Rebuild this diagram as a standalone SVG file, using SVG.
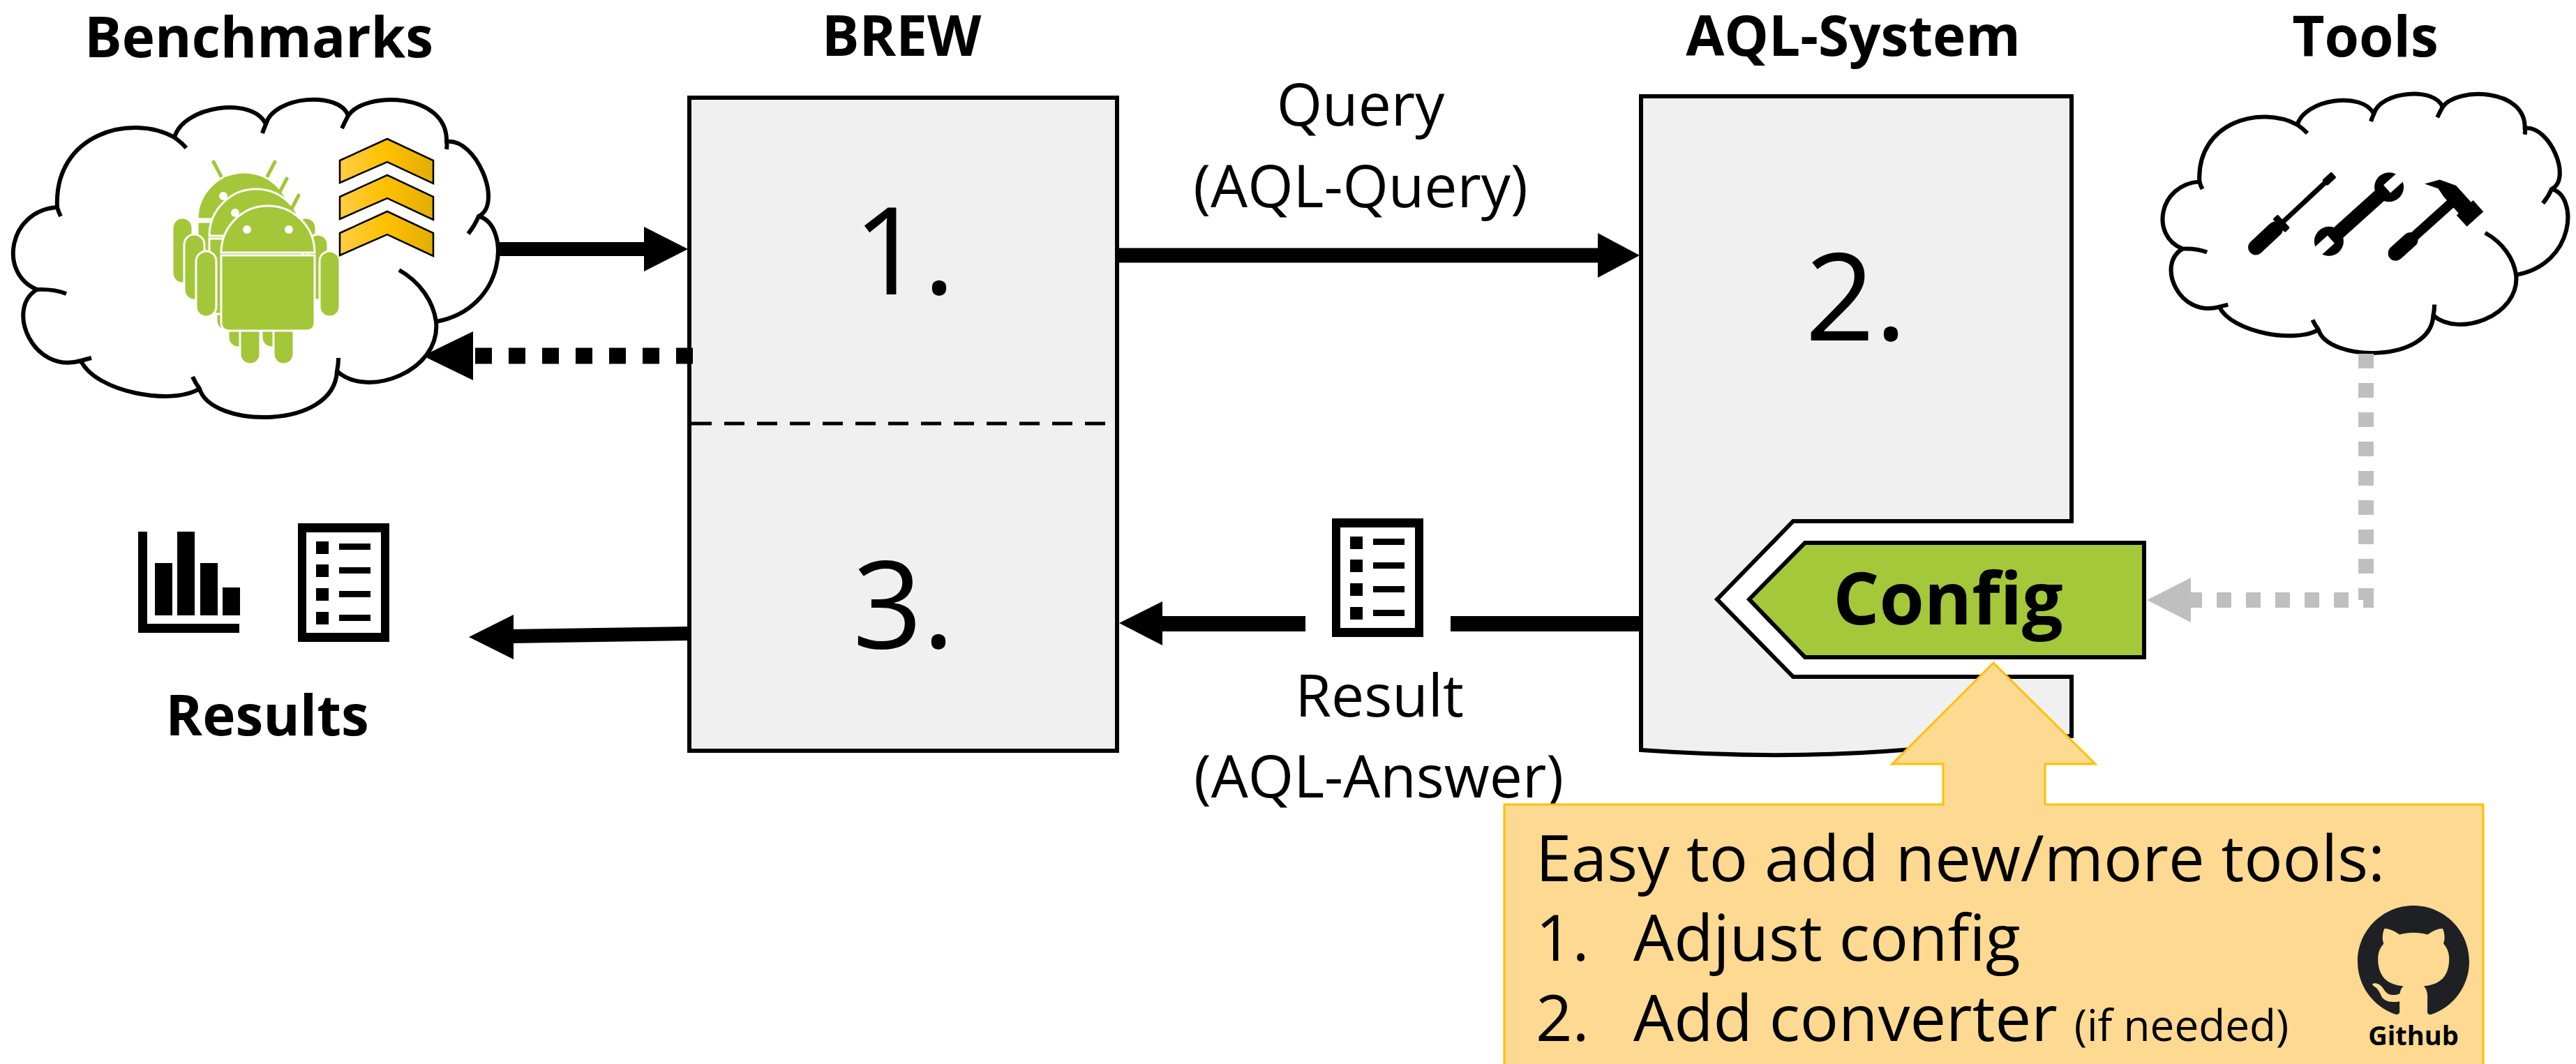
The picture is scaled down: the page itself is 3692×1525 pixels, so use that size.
<svg xmlns="http://www.w3.org/2000/svg" xmlns:xlink="http://www.w3.org/1999/xlink" width="3692" height="1525" viewBox="0 0 3692 1525">
  <style>
    .title { font-family: "Open Sans", "Noto Sans", sans-serif; font-weight: 700; font-size: 80px; text-anchor: middle; fill: #000; }
    .num { font-family: "Open Sans", "Noto Sans", sans-serif; font-size: 175px; text-anchor: middle; fill: #000; }
    .lbl { font-family: "Open Sans", "Noto Sans", sans-serif; font-size: 84px; text-anchor: middle; fill: #000; }
    .note { font-family: "Open Sans", "Noto Sans", sans-serif; font-size: 92px; fill: #000; }
    .box { fill: #f0f0f0; stroke: #000; stroke-width: 6; }
    .cloud { fill: #fff; stroke: #000; stroke-linejoin: round; stroke-linecap: round; }
    .cloud-mark { fill: none; stroke: #000; stroke-linecap: butt; }
    .droid { fill: #a4c639; stroke: #fff; stroke-width: 3; }
    .chev { fill: url(#chevFill); stroke: #000; stroke-width: 2.5; }
    .shaft { stroke: #000; fill: none; }
  </style>
  <defs>
    <linearGradient id="chevFill" x1="0" y1="0" x2="1" y2="0">
      <stop offset="0" stop-color="#ffcd45"/>
      <stop offset="0.5" stop-color="#ffc000"/>
      <stop offset="1" stop-color="#e2ae00"/>
    </linearGradient>
    <!-- cloud outline in a 700 x 457 box, plus the short inner arc ends -->
    <g id="cloudShape">
      <path class="cloud" d="M36,273 C-20,250 -5,160 65,155 C60,50 170,20 233,55 C245,10 345,-5 364,36 C375,-5 470,-12 482,24 C505,-12 625,-10 623,61 C665,55 705,150 669,168 C715,180 710,300 608,319 C615,390 510,430 466,390 C462,475 285,472 269,415 C230,440 120,420 99,375 C30,395 -10,300 36,273 Z"/>
      <path class="cloud-mark" d="M36,273 Q60,272 78,279 M65,155 Q67,162 70,168 M233,55 Q243,62 250,70 M364,36 Q361,43 359,49 M482,24 Q477,33 473,42 M623,61 Q624,66 623,72 M669,168 Q663,182 654,193 M555,245 C585,262 604,290 608,319 M468,371 Q468,381 466,390 M259,398 Q263,407 269,415 M114,371 Q106,373 99,375"/>
    </g>
    <!-- android robot, origin at the centre of the head base -->
    <g id="droid" class="droid">
      <line x1="-32" y1="-59" x2="-44" y2="-82" stroke="#a4c639" stroke-width="5" stroke-linecap="round"/>
      <line x1="32" y1="-59" x2="44" y2="-82" stroke="#a4c639" stroke-width="5" stroke-linecap="round"/>
      <rect x="-103" y="-2" width="29" height="94" rx="14.5"/>
      <rect x="74" y="-2" width="29" height="94" rx="14.5"/>
      <rect x="-40" y="95" width="29" height="65" rx="14.5"/>
      <rect x="8" y="95" width="29" height="65" rx="14.5"/>
      <path d="M-67,4 H67 V100 Q67,112 55,112 H-55 Q-67,112 -67,100 Z"/>
      <path d="M-67,0 A67,67 0 0 1 67,0 Z"/>
      <circle cx="-30" cy="-33" r="6" fill="#fff" stroke="none"/>
      <circle cx="30" cy="-33" r="6" fill="#fff" stroke="none"/>
    </g>
    <!-- list document icon -->
    <g id="docIcon">
      <rect x="0" y="0" width="131" height="170" fill="#000"/>
      <rect x="12" y="13" width="107" height="144" fill="#fff"/>
      <g fill="#000">
        <rect x="26" y="26" width="18" height="18"/>
        <rect x="26" y="59" width="18" height="18"/>
        <rect x="26" y="93" width="18" height="18"/>
        <rect x="26" y="127" width="18" height="18"/>
        <rect x="59" y="29" width="45" height="9"/>
        <rect x="59" y="63" width="45" height="9"/>
        <rect x="59" y="97" width="45" height="9"/>
        <rect x="59" y="131" width="45" height="9"/>
      </g>
    </g>
  </defs>

  <rect width="3692" height="1525" fill="#fff"/>

  <!-- Benchmarks -->
  <g id="benchmarks">
    <text class="title" x="371" y="82">Benchmarks</text>
    <use xlink:href="#cloudShape" transform="translate(17,142)" stroke-width="6"/>
    <use xlink:href="#droid" transform="translate(350,314)"/>
    <use xlink:href="#droid" transform="translate(367,338)"/>
    <use xlink:href="#droid" transform="translate(384,362)"/>
    <polygon class="chev" points="487,230 555,199 621,230 621,263 555,232 487,262"/>
    <polygon class="chev" points="487,282 555,251 621,282 621,315 555,284 487,314"/>
    <polygon class="chev" points="487,334 555,303 621,334 621,367 555,336 487,366"/>
  </g>

  <!-- BREW -->
  <g id="brew">
    <text class="title" x="1292" y="80">BREW</text>
    <rect class="box" x="988" y="140" width="613" height="936"/>
    <line x1="991" y1="607" x2="1598" y2="607" stroke="#000" stroke-width="5" stroke-dasharray="29 18"/>
    <text class="num" x="1296" y="422">1.</text>
    <text class="num" x="1295" y="929">3.</text>
  </g>

  <!-- AQL-System -->
  <g id="aql-system">
    <text class="title" x="2656" y="80">AQL-System</text>
    <path class="box" d="M2352,138 H2969 V747 H2570 L2461,859 L2570,970 H2969 V1055 C2900,1060 2800,1070 2700,1077 C2600,1084 2480,1084 2352,1075 Z"/>
    <text class="num" x="2660" y="488">2.</text>
  </g>

  <!-- Config -->
  <g id="config">
    <polygon points="2507,859 2587,778 3073,778 3073,942 2587,942" fill="#a5c73a" stroke="#000" stroke-width="6"/>
    <text x="2792" y="895" font-family="'Open Sans', 'Noto Sans', sans-serif" font-weight="700" font-size="104" text-anchor="middle">Config</text>
  </g>

  <!-- Tools -->
  <g id="tools">
    <text class="title" x="3390" y="81">Tools</text>
    <use xlink:href="#cloudShape" transform="translate(3098,134) scale(0.8357,0.8154)" stroke-width="7.3"/>
    <!-- screwdriver -->
    <g transform="translate(3285,306) rotate(-43)" fill="#000">
      <rect x="-82" y="-11" width="60" height="22" rx="11"/>
      <rect x="-26" y="-13" width="10" height="26" rx="2"/>
      <rect x="-18" y="-3.5" width="86" height="7"/>
      <rect x="64" y="-5.5" width="18" height="11" rx="2"/>
    </g>
    <!-- wrench -->
    <g transform="translate(3381,307) rotate(-42)">
      <rect x="-58" y="-10" width="116" height="20" rx="4" fill="#000"/>
      <circle cx="-58" cy="0" r="21" fill="#000"/>
      <circle cx="58" cy="0" r="21" fill="#000"/>
      <rect x="-84" y="-7.5" width="30" height="15" fill="#fff"/>
      <rect x="54" y="-7.5" width="30" height="15" fill="#fff"/>
    </g>
    <!-- hammer -->
    <g transform="translate(3430,366) rotate(-42)" fill="#000">
      <rect x="-6" y="-7" width="126" height="14" rx="5"/>
      <rect x="-6" y="-11" width="50" height="22" rx="11"/>
      <polygon points="134,-14 134,18 138,18 138,40 106,40 106,18 110,18 110,-14 112,-28 102,-46 122,-36"/>
    </g>
  </g>

  <!-- Results -->
  <g id="results">
    <g fill="#000">
      <rect x="198" y="762" width="13" height="145"/>
      <rect x="198" y="894" width="145" height="13"/>
      <rect x="222" y="807" width="25" height="75"/>
      <rect x="254" y="762" width="25" height="120"/>
      <rect x="287" y="807" width="25" height="75"/>
      <rect x="319" y="842" width="25" height="40"/>
    </g>
    <use xlink:href="#docIcon" transform="translate(427,750)"/>
    <text class="title" x="383" y="1054">Results</text>
  </g>

  <!-- Connectors -->
  <g id="connectors">
    <!-- benchmarks to BREW -->
    <line x1="715" y1="357" x2="926" y2="357" stroke="#000" stroke-width="20"/>
    <polygon points="986,357 923,325 923,389" fill="#000"/>
    <!-- BREW back to benchmarks (dotted) -->
    <line x1="993" y1="510" x2="680" y2="510" stroke="#000" stroke-width="23" stroke-dasharray="24 24"/>
    <polygon points="606,510 678,475 678,545" fill="#000"/>
    <!-- BREW to results -->
    <line x1="988" y1="908" x2="730" y2="912" stroke="#000" stroke-width="20"/>
    <polygon points="672,913 736,881 736,945" fill="#000"/>
    <!-- query -->
    <line x1="1601" y1="366" x2="2294" y2="366" stroke="#000" stroke-width="21"/>
    <polygon points="2350,366 2290,334 2290,398" fill="#000"/>
    <text class="lbl" x="1950" y="180">Query</text>
    <text class="lbl" x="1950" y="297">(AQL-Query)</text>
    <!-- result -->
    <line x1="2352" y1="894" x2="2079" y2="894" stroke="#000" stroke-width="22"/>
    <line x1="1871" y1="894" x2="1660" y2="894" stroke="#000" stroke-width="22"/>
    <polygon points="1604,893 1666,862 1666,925" fill="#000"/>
    <use xlink:href="#docIcon" transform="translate(1909,743)"/>
    <text class="lbl" x="1977" y="1027">Result</text>
    <text class="lbl" x="1976" y="1143">(AQL-Answer)</text>
    <!-- tools to config (grey dotted) -->
    <path d="M3391,507 V860 H3140" fill="none" stroke="#bfbfbf" stroke-width="22" stroke-dasharray="21 21"/>
    <polygon points="3077,860 3140,828 3140,892" fill="#bfbfbf"/>
  </g>

  <!-- Callout -->
  <g id="callout">
    <path d="M2156,1153 H2785 V1095 H2712 L2857,950 L3003,1095 H2931 V1153 H3559 V1530 H2156 Z" fill="#fdd992" stroke="#ffc000" stroke-width="3"/>
    <text class="note" x="2201" y="1263">Easy to add new/more tools:</text>
    <text class="note" x="2201" y="1377">1.</text>
    <text class="note" x="2341" y="1377">Adjust config</text>
    <text class="note" x="2201" y="1492">2.</text>
    <text class="note" x="2341" y="1492">Add converter <tspan font-size="62">(if needed)</tspan></text>
    <path transform="translate(3379,1298) scale(10)" fill="#1e2024" d="M8 0C3.58 0 0 3.58 0 8c0 3.54 2.290 6.530 5.470 7.590.4.07.55-.17.55-.38 0-.19-.01-.82-.01-1.49-2.01.37-2.53-.49-2.69-.94-.09-.23-.48-.94-.82-1.130-.28-.15-.68-.52-.01-.53.63-.01 1.08.58 1.23.82.72 1.21 1.87.87 2.33.66.07-.52.28-.87.51-1.06-1.78-.2-3.64-.89-3.64-3.95 0-.87.31-1.59.82-2.15-.08-.2-.36-1.02.08-2.12 0 0 .67-.21 2.2.82.64-.18 1.32-.27 2-.27.68 0 1.36.09 2 .27 1.53-1.04 2.2-.82 2.2-.82.44 1.1.16 1.92.08 2.12.51.56.82 1.27.82 2.15 0 3.07-1.87 3.75-3.65 3.95.29.25.54.73.54 1.48 0 1.07-.01 1.93-.01 2.2 0 .21.15.46.55.38A8.013 8.013 0 0 0 16 8c0-4.42-3.58-8-8-8z"/>
    <text x="3459" y="1498" font-family="'Open Sans', 'Noto Sans', sans-serif" font-weight="700" font-size="38" text-anchor="middle">Github</text>
  </g>
</svg>
